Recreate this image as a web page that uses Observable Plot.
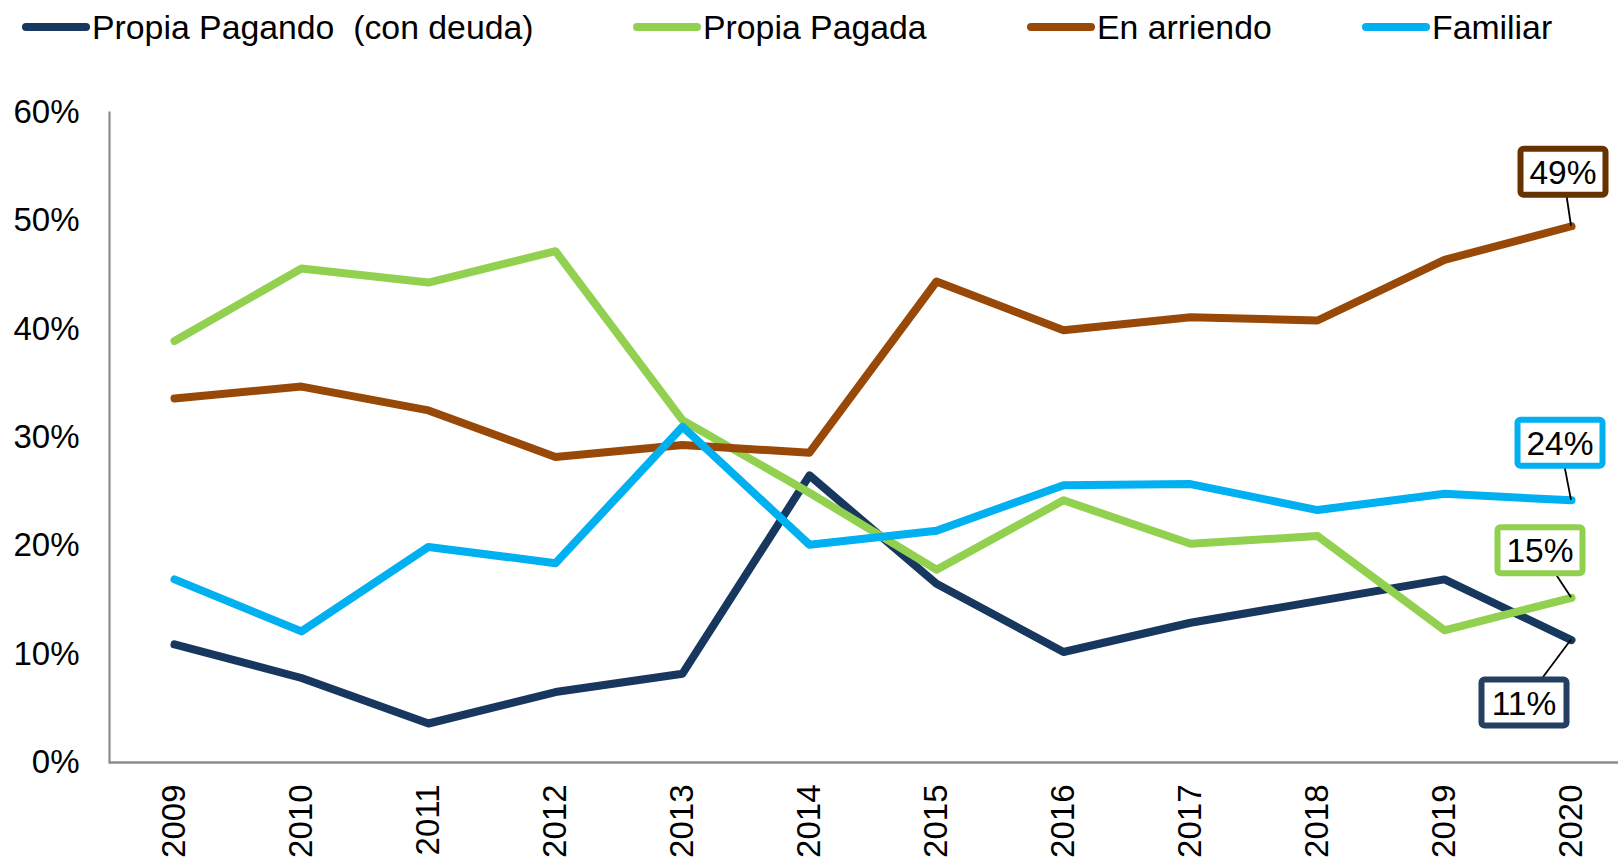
<!DOCTYPE html>
<html>
<head>
<meta charset="utf-8">
<script src="https://cdn.jsdelivr.net/npm/d3@7"></script>
<script src="https://cdn.jsdelivr.net/npm/@observablehq/plot@0.6"></script>
<style>
  html, body { margin: 0; padding: 0; background: #fff; }
  body { font-family: "Liberation Sans", Arial, sans-serif; }
  #wrap { position: relative; width: 1618px; height: 859px; overflow: hidden; }
  #legend { position: absolute; left: 0; top: 0; width: 1618px; height: 56px; z-index: 2; }
  .item { position: absolute; top: 8px; display: flex; align-items: center; height: 38px; font-size: 33.8px; color: #000; white-space: pre; }
  .sw { width: 68px; height: 8px; border-radius: 4px; margin-right: 2px; }
  #chart { position: absolute; left: 0; top: 0; }
</style>
</head>
<body>
<div id="wrap">
  <div id="legend"></div>
  <div id="chart"></div>
</div>
<script>
// ---- Data ----
const years = [2009, 2010, 2011, 2012, 2013, 2014, 2015, 2016, 2017, 2018, 2019, 2020];
const seriesNames = ["Propia Pagando  (con deuda)", "Propia Pagada", "En arriendo", "Familiar"];
const propiaPagando = [10.9, 7.8, 3.6, 6.5, 8.2, 26.5, 16.5, 10.2, 12.9, 14.9, 16.9, 11.3];
const propiaPagada  = [38.9, 45.6, 44.3, 47.2, 31.6, 24.9, 17.8, 24.2, 20.2, 20.9, 12.2, 15.2];
const enArriendo    = [33.6, 34.7, 32.5, 28.2, 29.3, 28.6, 44.4, 39.9, 41.1, 40.8, 46.4, 49.5];
const familiar      = [16.9, 12.1, 19.9, 18.4, 31.0, 20.1, 21.4, 25.6, 25.7, 23.3, 24.8, 24.2];
const endLabels = ["11%", "15%", "49%", "24%"];
const yTicks = [0, 10, 20, 30, 40, 50, 60];

const seriesValues = [propiaPagando, propiaPagada, enArriendo, familiar];
const seriesColors = ["#17375E", "#92D050", "#984807", "#00B0F0"];
const boxColors = ["#243F60", "#92D050", "#663300", "#00B0F0"];
// label offsets (pixels) relative to the last point
const boxOffsets = [[-47, 63], [-31, -47], [-8, -54], [-11, -57]];

const rows = [];
seriesNames.forEach((s, k) => years.forEach((yr, i) => rows.push({year: yr, value: seriesValues[k][i], series: s})));

const endData = seriesNames.map((s, k) => ({
  series: s, value: seriesValues[k][years.length - 1], label: endLabels[k],
  color: boxColors[k], dx: boxOffsets[k][0], dy: boxOffsets[k][1]
}));

// ---- Legend ----
const legendLeft = [22, 633, 1027, 1362];
const legend = document.getElementById("legend");
seriesNames.forEach((s, k) => {
  const it = document.createElement("div");
  it.className = "item";
  it.style.left = legendLeft[k] + "px";
  const sw = document.createElement("div");
  sw.className = "sw";
  sw.style.background = seriesColors[k];
  const tx = document.createElement("span");
  tx.textContent = s;
  it.appendChild(sw); it.appendChild(tx);
  legend.appendChild(it);
});

// ---- Chart ----
const endLabelMark = (index, scales, values, dimensions, context) => {
  const g = d3.create("svg:g");
  const lastYear = years[years.length - 1];
  endData.forEach(d => {
    const px = scales.x(lastYear), py = scales.y(d.value);
    const cx = px + d.dx, cy = py + d.dy;
    g.append("line").attr("x1", px).attr("y1", py).attr("x2", cx).attr("y2", cy)
      .attr("stroke", "#000").attr("stroke-width", 1.8);
    g.append("rect").attr("x", cx - 42.5).attr("y", cy - 23).attr("width", 85).attr("height", 46)
      .attr("rx", 3).attr("fill", "#fff").attr("stroke", d.color).attr("stroke-width", 6);
    g.append("text").attr("x", cx).attr("y", cy).attr("dy", "0.36em")
      .attr("text-anchor", "middle").attr("font-size", 33.5).attr("fill", "#000").text(d.label);
  });
  return g.node();
};

const chart = Plot.plot({
  width: 1618,
  height: 859,
  marginTop: 112,
  marginBottom: 97,
  marginLeft: 109,
  marginRight: 0,
  style: {fontFamily: "'Liberation Sans', Arial, sans-serif", fontSize: "33px", color: "#000", background: "#fff"},
  x: {type: "point", domain: years, range: [172.5, 1573], padding: 0, label: null},
  y: {domain: [0, 60], label: null},
  color: {domain: seriesNames, range: seriesColors},
  marks: [
    Plot.axisY({ticks: yTicks, tickFormat: d => d + "%", tickSize: 0, tickPadding: 30, fontSize: 33, label: null}),
    Plot.axisX({tickRotate: -90, tickSize: 0, tickPadding: 22, fontSize: 33, label: null, tickFormat: d => String(d)}),
    Plot.frame({anchor: "left", stroke: "#8c8c8c", strokeWidth: 2.2, strokeOpacity: 1}),
    Plot.ruleY([0], {stroke: "#8c8c8c", strokeWidth: 2.6}),
    Plot.line(rows, {x: "year", y: "value", z: "series", stroke: "series",
      strokeWidth: 8, strokeLinecap: "round", strokeLinejoin: "round"}),
    endLabelMark
  ]
});
document.getElementById("chart").appendChild(chart);
</script>
</body>
</html>
